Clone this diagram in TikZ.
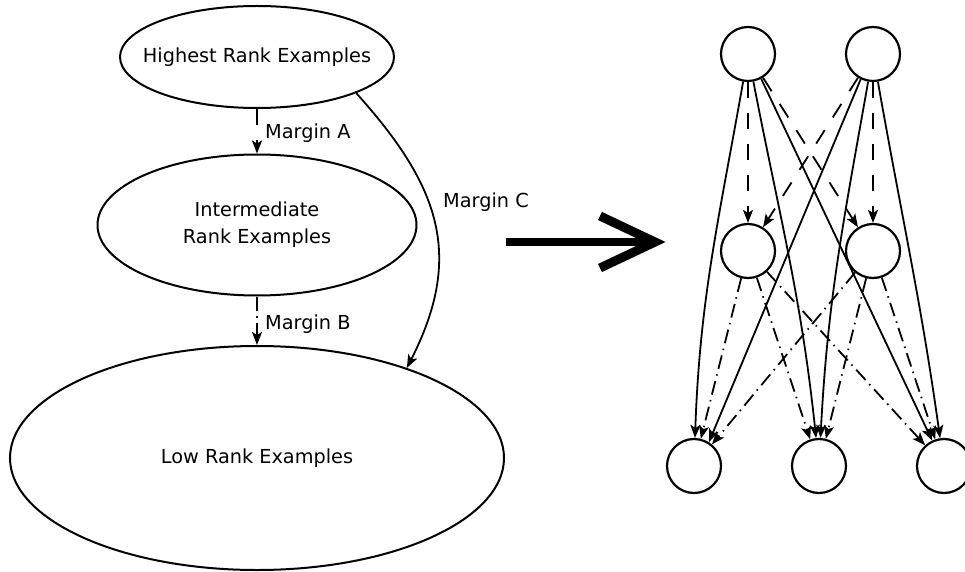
\documentclass[tikz,border=0pt]{standalone}
\usepackage{fontspec}
\setmainfont{DejaVu Sans}
\usetikzlibrary{shapes.geometric,arrows.meta}

\tikzset{
  txt/.style={font=\fontsize{19.3}{27}\selectfont, inner sep=0pt},
  rankset/.style={ellipse, draw, line width=2pt, inner sep=0pt},
  unit/.style={circle, draw, line width=2.2pt, minimum size=54pt, inner sep=0pt},
  tip/.style={-{Stealth[length=13pt,width=10pt,inset=3pt]}},
  edge/.style={tip, line width=1.8pt},
  marginA/.style={edge, dash pattern=on 16pt off 15pt},
  marginB/.style={edge, dash pattern=on 14pt off 5.5pt on 1.5pt off 5.5pt},
  marginC/.style={edge},
}

\begin{document}
\begin{tikzpicture}[x=1pt,y=1pt]
\useasboundingbox (0,0) rectangle (965,571);

% ranked sets of examples
\node[rankset, minimum width=274pt, minimum height=102pt,
      label={[txt]center:Highest Rank Examples}] (high) at (257,514) {};
\node[rankset, minimum width=319pt, minimum height=141pt,
      label={[txt, align=center]center:Intermediate\\Rank Examples}] (inter) at (257,346) {};
\node[rankset, minimum width=494pt, minimum height=224pt,
      label={[txt]center:Low Rank Examples}] (low) at (257,113) {};

% margins between the sets
\draw[marginA] (high) -- (inter);
\draw[marginB] (inter) -- (low);
\draw[marginC] (high.-20) to[out=-48, in=63, looseness=1.15] (low.31);

\node[txt, anchor=base west] (la) at (265,432) {Margin A};
\node[txt, anchor=base west] (lb) at (265,242) {Margin B};
\node[txt, anchor=base west] (lc) at (443,363) {Margin C};

% big arrow
\coordinate (s0) at (506,329);
\coordinate (s1) at (655,329);
\coordinate (h1) at (600,355);
\coordinate (h2) at (600,303);
\draw[line width=8pt] (s0) -- (s1);
\draw[line width=9pt, line join=miter] (h1) -- (s1) -- (h2);

% layered graph
\node[unit] (tl) at (748,517) {};
\node[unit] (tr) at (873,517) {};
\node[unit] (ml) at (748,320) {};
\node[unit] (mr) at (873,320) {};
\node[unit] (bl) at (694,105) {};
\node[unit] (bm) at (819,105) {};
\node[unit] (br) at (944,105) {};

% top -> middle
\draw[marginA] (tl) -- (ml);
\draw[marginA] (tl) -- (mr);
\draw[marginA] (tr) -- (ml);
\draw[marginA] (tr) -- (mr);

% top -> bottom
\draw[marginC] (tl) to[out=-100, in=88] (bl);
\draw[marginC] (tl) to[out=-79, in=96] (bm);
\draw[marginC] (tl.-62) -- (br.115);
\draw[marginC] (tr.-116) -- (bl.58);
\draw[marginC] (tr) to[out=-100, in=87] (bm);
\draw[marginC] (tr) to[out=-80, in=98] (br);

% middle -> bottom
\draw[marginB] (ml) -- (bl);
\draw[marginB] (ml) -- (bm);
\draw[marginB] (ml) -- (br);
\draw[marginB] (mr) -- (bl);
\draw[marginB] (mr) -- (bm);
\draw[marginB] (mr) -- (br);
\end{tikzpicture}
\end{document}
